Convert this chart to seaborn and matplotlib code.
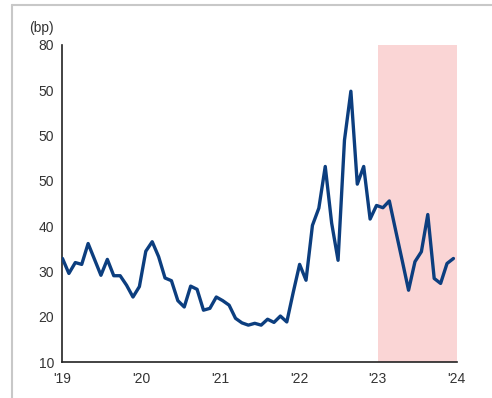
import numpy as np
import pandas as pd
import matplotlib
matplotlib.use("Agg")
import matplotlib.pyplot as plt
from matplotlib.lines import Line2D
import seaborn as sns

# Monthly spread series (bp), Jan 2019 onward
spread_bp = [
    32.9, 29.6, 32.0, 31.6, 36.2, 32.7, 29.2, 32.7, 29.1, 29.1,
    27.0, 24.4, 26.7, 34.5, 36.6, 33.3, 28.6, 28.0, 23.6, 22.2,
    26.8, 26.1, 21.5, 21.9, 24.4, 23.6, 22.6, 19.7, 18.7, 18.2,
    18.6, 18.2, 19.5, 18.8, 20.2, 18.9, 25.4, 31.6, 28.1, 40.2,
    44.0, 53.2, 40.7, 32.5, 59.0, 69.8, 49.3, 53.2, 41.6, 44.6,
    44.1, 45.6, 39.0, 32.5, 25.9, 32.2, 34.4, 42.6, 28.5, 27.4,
    31.8, 32.9,
]
year_ticks = [2019, 2020, 2021, 2022, 2023, 2024]
year_labels = ["'19", "'20", "'21", "'22", "'23", "'24"]
y_ticks = [10, 20, 30, 40, 50, 60, 70, 80]
y_labels = ["10", "20", "30", "40", "50", "50", "50", "80"]
highlight_start, highlight_end = 2023, 2024

n = len(spread_bp)
df = pd.DataFrame({
    "t": np.linspace(2019.0, 2023.96, n),
    "bp": spread_bp,
})

sns.set_theme(style="white")
plt.rcParams["font.family"] = ["Liberation Sans", "DejaVu Sans"]

fig = plt.figure(figsize=(4.92, 3.98), dpi=100)
ax = fig.add_axes([0.127, 0.0897, 0.801, 0.7973])

ax.axvspan(highlight_start, highlight_end, color="#fad5d5", lw=0, zorder=0)
sns.lineplot(data=df, x="t", y="bp", ax=ax, color="#0c3e7f", lw=2.4, zorder=3)

ax.set_xlim(2019, 2024)
ax.set_ylim(10, 80)
ax.set_xticks(year_ticks)
ax.set_xticklabels(year_labels)
ax.set_yticks(y_ticks)
ax.set_yticklabels(y_labels)
ax.set_xlabel("")
ax.set_ylabel("")

for side in ["top", "right"]:
    ax.spines[side].set_visible(False)
for side in ["left", "bottom"]:
    ax.spines[side].set_color("#222222")
    ax.spines[side].set_linewidth(1.2)

ax.tick_params(axis="y", direction="in", length=4.5, width=1.0, color="#222222",
               labelsize=10, labelcolor="#333333", pad=6)
ax.tick_params(axis="x", length=0, labelsize=10, labelcolor="#333333", pad=7)
ax.grid(False)

fig.text(41 / 492, 1 - 28 / 398, "(bp)", ha="center", va="center",
         fontsize=10, color="#333333")

# thin grey frame along the top and left edges
frame_c = "#c8c8c8"
fig.add_artist(Line2D([12 / 492, 1.0], [1 - 5 / 398, 1 - 5 / 398],
                      color=frame_c, lw=1.5, transform=fig.transFigure))
fig.add_artist(Line2D([12 / 492, 12 / 492], [0.0, 1 - 5 / 398],
                      color=frame_c, lw=1.5, transform=fig.transFigure))

fig.savefig("out.png", dpi=100)
